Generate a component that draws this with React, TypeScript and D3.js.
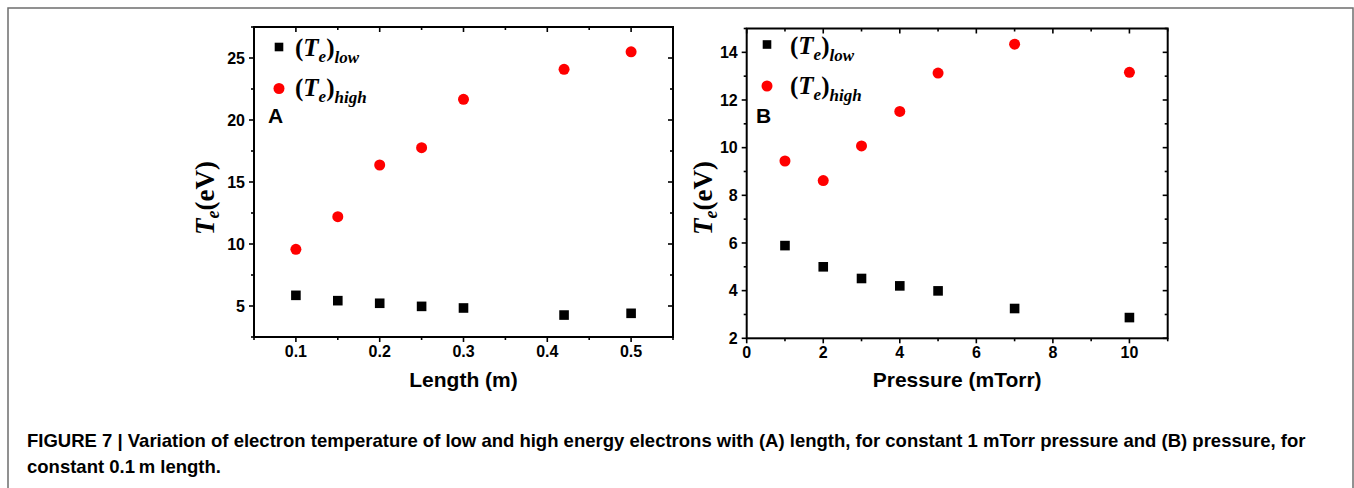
import React, { useEffect, useRef } from "react";
import * as d3 from "d3";

// Panel A: length sweep (1 mTorr)
const lengthM = [0.1, 0.15, 0.2, 0.25, 0.3, 0.42, 0.5];
const teLowA = [5.86, 5.43, 5.22, 4.97, 4.84, 4.27, 4.41];
const teHighA = [9.57, 12.2, 16.37, 17.77, 21.67, 24.09, 25.5];

// Panel B: pressure sweep (0.1 m)
const pressure = [1, 2, 3, 4, 5, 7, 10];
const teLowB = [5.89, 5.0, 4.51, 4.2, 3.99, 3.25, 2.87];
const teHighB = [9.44, 8.62, 10.07, 11.52, 13.13, 14.34, 13.16];

const xMajorA = [0.1, 0.2, 0.3, 0.4, 0.5];
const xMinorA = [0.05, 0.15, 0.25, 0.35, 0.45, 0.55];
const yMajorA = [5, 10, 15, 20, 25];
const yMinorA = [2.5, 7.5, 12.5, 17.5, 22.5, 27.5];

const xMajorB = [0, 2, 4, 6, 8, 10];
const xMinorB = [1, 3, 5, 7, 9, 11];
const yMajorB = [2, 4, 6, 8, 10, 12, 14];
const yMinorB = [3, 5, 7, 9, 11, 13, 15];

const captionLines = [
  "FIGURE 7 | Variation of electron temperature of low and high energy electrons with (A) length, for constant 1 mTorr pressure and (B) pressure, for",
  "constant 0.1\u2009m length.",
];

const SANS = "'Liberation Sans', Arial, sans-serif";
const SERIF = "'Liberation Serif', 'Times New Roman', serif";

const App = () => {
  const ref = useRef<SVGSVGElement>(null);

  useEffect(() => {
    const svg = d3.select(ref.current);
    svg.selectAll("*").remove();

    // outer frame
    svg
      .append("rect")
      .attr("x", 8)
      .attr("y", 8)
      .attr("width", 1345)
      .attr("height", 500)
      .attr("fill", "none")
      .attr("stroke", "#6e6e6e")
      .attr("stroke-width", 1.5);

    const panels = [
      {
        left: 254, right: 673, top: 27, bottom: 337,
        xDom: [0.05, 0.55], yDom: [2.5, 27.5],
        xMajor: xMajorA, xMinor: xMinorA, yMajor: yMajorA, yMinor: yMinorA,
        xFmt: d3.format(".1f"),
        xs: lengthM, low: teLowA, high: teHighA,
        xLabel: "Length (m)", tag: "A", yLabelX: 214, legX: 279, textX: 295, legY: 47,
      },
      {
        left: 746.7, right: 1167.7, top: 28.5, bottom: 338.3,
        xDom: [0, 11], yDom: [2, 15],
        xMajor: xMajorB, xMinor: xMinorB, yMajor: yMajorB, yMinor: yMinorB,
        xFmt: d3.format("d"),
        xs: pressure, low: teLowB, high: teHighB,
        xLabel: "Pressure (mTorr)", tag: "B", yLabelX: 712, legX: 767, textX: 790, legY: 44.5,
      },
    ];

    panels.forEach((p) => {
      const x = d3.scaleLinear().domain(p.xDom).range([p.left, p.right]);
      const y = d3.scaleLinear().domain(p.yDom).range([p.bottom, p.top]);
      const g = svg.append("g");

      const major = 5;
      const minor = 3;
      const tickG = g.append("g").attr("stroke", "#000").attr("stroke-width", 1.6);

      const addX = (vals: number[], len: number) => {
        vals.forEach((v) => {
          tickG.append("line").attr("x1", x(v)).attr("x2", x(v)).attr("y1", p.bottom).attr("y2", p.bottom + len);
          tickG.append("line").attr("x1", x(v)).attr("x2", x(v)).attr("y1", p.top).attr("y2", p.top + len);
        });
      };
      const addY = (vals: number[], len: number) => {
        vals.forEach((v) => {
          tickG.append("line").attr("x1", p.left).attr("x2", p.left - len).attr("y1", y(v)).attr("y2", y(v));
          tickG.append("line").attr("x1", p.right).attr("x2", p.right - len).attr("y1", y(v)).attr("y2", y(v));
        });
      };
      addX(p.xMajor, major);
      addX(p.xMinor, minor);
      addY(p.yMajor, major);
      addY(p.yMinor, minor);

      g.append("rect")
        .attr("x", p.left)
        .attr("y", p.top)
        .attr("width", p.right - p.left)
        .attr("height", p.bottom - p.top)
        .attr("fill", "none")
        .attr("stroke", "#000")
        .attr("stroke-width", 2);

      // tick labels
      g.append("g")
        .attr("font-family", SANS)
        .attr("font-weight", "bold")
        .attr("font-size", 16)
        .attr("text-anchor", "middle")
        .selectAll("text")
        .data(p.xMajor)
        .join("text")
        .attr("x", (d) => x(d))
        .attr("y", p.bottom + 20)
        .text((d) => p.xFmt(d));

      g.append("g")
        .attr("font-family", SANS)
        .attr("font-weight", "bold")
        .attr("font-size", 16)
        .attr("text-anchor", "end")
        .selectAll("text")
        .data(p.yMajor)
        .join("text")
        .attr("x", p.left - 9)
        .attr("y", (d) => y(d))
        .attr("dy", "0.36em")
        .text((d) => String(d));

      // axis labels
      g.append("text")
        .attr("x", (p.left + p.right) / 2)
        .attr("y", 387)
        .attr("text-anchor", "middle")
        .attr("font-family", SANS)
        .attr("font-weight", "bold")
        .attr("font-size", 21)
        .text(p.xLabel);

      const yl = g
        .append("text")
        .attr("transform", `translate(${p.yLabelX},198) rotate(-90)`)
        .attr("text-anchor", "middle")
        .attr("font-family", SERIF)
        .attr("font-weight", "bold")
        .attr("font-size", 27);
      yl.append("tspan").attr("font-style", "italic").text("T");
      yl.append("tspan").attr("font-style", "italic").attr("font-size", 18).attr("dy", 5).text("e");
      yl.append("tspan").attr("dy", -5).text("(eV)");

      // points
      g.append("g")
        .attr("fill", "#000")
        .selectAll("rect")
        .data(p.xs.map((v, i) => [v, p.low[i]]))
        .join("rect")
        .attr("x", (d) => x(d[0]) - 4.8)
        .attr("y", (d) => y(d[1]) - 4.8)
        .attr("width", 9.6)
        .attr("height", 9.6);

      g.append("g")
        .attr("fill", "#ff0000")
        .selectAll("circle")
        .data(p.xs.map((v, i) => [v, p.high[i]]))
        .join("circle")
        .attr("cx", (d) => x(d[0]))
        .attr("cy", (d) => y(d[1]))
        .attr("r", 5.5);

      // legend
      g.append("rect")
        .attr("x", p.legX - 4.3)
        .attr("y", p.legY - 4.3)
        .attr("width", 8.6)
        .attr("height", 8.6)
        .attr("fill", "#000");
      g.append("circle")
        .attr("cx", p.legX)
        .attr("cy", p.legY + 41.5)
        .attr("r", 5.5)
        .attr("fill", "#ff0000");

      ["low", "high"].forEach((sub, i) => {
        const t = g
          .append("text")
          .attr("x", p.textX)
          .attr("y", p.legY + 9 + i * 40)
          .attr("font-family", SERIF)
          .attr("font-weight", "bold")
          .attr("font-size", 25);
        t.append("tspan").text("(");
        t.append("tspan").attr("font-style", "italic").text("T");
        t.append("tspan").attr("font-style", "italic").attr("font-size", 17).attr("dy", 6).text("e");
        t.append("tspan").attr("dy", -6).text(")");
        t.append("tspan").attr("font-style", "italic").attr("font-size", 17).attr("dy", 7).text(sub);
      });

      g.append("text")
        .attr("x", p.legX - 11)
        .attr("y", 123)
        .attr("font-family", SANS)
        .attr("font-weight", "bold")
        .attr("font-size", 21)
        .text(p.tag);
    });

    // caption
    svg
      .append("g")
      .attr("font-family", SANS)
      .attr("font-weight", "bold")
      .attr("font-size", 18.5)
      .selectAll("text")
      .data(captionLines)
      .join("text")
      .attr("x", 27)
      .attr("y", (d, i) => 447 + i * 26)
      .text((d) => d);
  }, []);

  return (
    <svg
      ref={ref}
      width={1354}
      height={488}
      style={{ position: "absolute", left: 0, top: 0, background: "#fff" }}
    ></svg>
  );
};

export default App;
